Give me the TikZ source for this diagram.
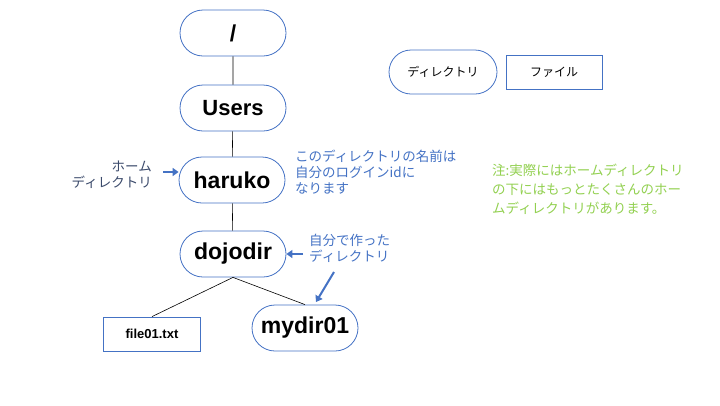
\documentclass[tikz,border=0pt]{standalone}
\usepackage{fontspec}
\setmainfont{Liberation Sans}
\newfontfamily\jp{Noto Sans CJK JP}
\usetikzlibrary{arrows.meta,shapes.misc}
\definecolor{bord}{HTML}{4472C4}
\definecolor{navy}{HTML}{3B4A6B}
\definecolor{grn}{HTML}{92D050}
\tikzset{
  dirbox/.style={draw=bord, line width=0.8pt, rounded rectangle, minimum width=106pt, minimum height=46pt, inner sep=0pt, font=\bfseries\fontsize{23}{25}\selectfont},
  filebox/.style={draw=bord, line width=0.8pt, rectangle, minimum width=97pt, minimum height=34pt, inner sep=0pt},
  link/.style={draw=black, line width=0.6pt},
  barrow/.style={draw=bord, line width=2pt, -{Triangle[length=6pt,width=8pt]}},
  note/.style={inner sep=0pt, align=left, anchor=north west, font=\jp\fontsize{13.5}{16}\selectfont, text=bord}
}
\begin{document}
\begin{tikzpicture}[x=1pt,y=-1pt]
\useasboundingbox (0,0) rectangle (720,405);
\node[dirbox] (root) at (233,33) {/};
\node[dirbox, font=\bfseries\fontsize{22}{24}\selectfont] (users) at (233,108) {Users};
\node[dirbox] (haruko) at (232,180) {haruko};
\node[dirbox] (dojodir) at (233,254) {dojodir};
\node[dirbox] (mydir) at (305,328) {mydir01};
\node[filebox, font=\bfseries\fontsize{13}{15}\selectfont] (file) at (152,334) {file01.txt};
\node[dirbox, minimum width=108pt, minimum height=44pt, font=\jp\fontsize{12}{14}\selectfont] (legd) at (443,72) {ディレクトリ};
\node[filebox, minimum width=96pt, font=\jp\fontsize{12}{14}\selectfont] (legf) at (554,72) {ファイル};
\draw[link] (root) -- (users);
\draw[link] (users) -- (haruko);
\draw[link] (haruko) -- (dojodir);
\draw[link] (dojodir.south) -- (file.north);
\draw[link] (dojodir.south) -- (mydir.north);
\node[note, anchor=north east, align=right, text=navy] (home) at (152,161) {ホーム\\ディレクトリ};
\coordinate (ha) at (163,172);
\draw[barrow] (ha) -- (haruko.west |- ha);
\node[note] (namenote) at (295,150) {このディレクトリの名前は\\自分のログインidに\\なります};
\node[note] (made) at (309,234) {自分で作った\\ディレクトリ};
\coordinate (ma) at (303,254);
\draw[barrow] (ma) -- (dojodir.east |- ma);
\coordinate (mb) at (334,272);
\coordinate (mc) at (316,302);
\draw[barrow] (mb) -- (mc);
\node[note, text=grn, font=\jp\fontsize{13.5}{19}\selectfont] (green) at (492,164) {注:実際にはホームディレクトリ\\の下にはもっとたくさんのホー\\ムディレクトリがあります。};
\end{tikzpicture}
\end{document}
